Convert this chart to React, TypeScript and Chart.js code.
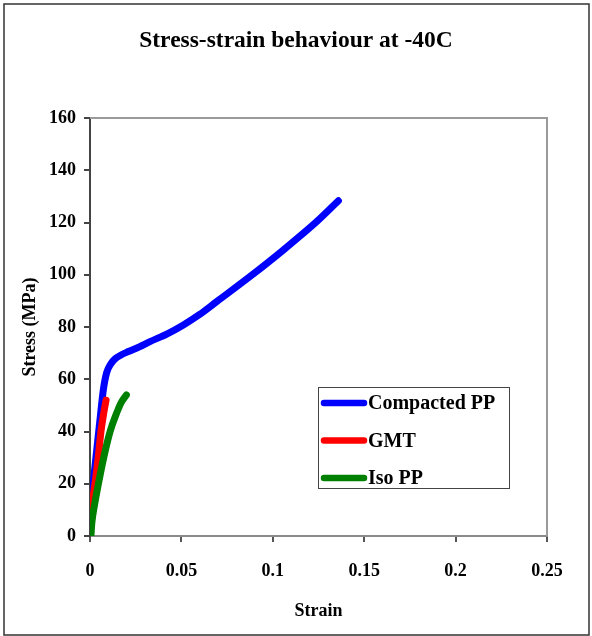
import React, { useEffect, useRef } from "react";
import { Chart, registerables } from "chart.js";

Chart.register(...registerables);

const titleText = "Stress-strain behaviour at -40C";
const xTitle = "Strain";
const yTitle = "Stress (MPa)";
const seriesNames = ["Compacted PP", "GMT", "Iso PP"];
const seriesColors = ["#0000ff", "#ff0000", "#008000"];

const compactedStrain = [0.0003, 0.002, 0.004, 0.006, 0.0073, 0.0091, 0.0115, 0.0137, 0.017, 0.021, 0.027, 0.0328, 0.042, 0.0511, 0.06, 0.0693, 0.0875, 0.1058, 0.124, 0.1359];
const compactedStress = [10, 22, 35, 48, 56, 62.5, 66, 67.8, 69.3, 70.6, 72.4, 74.4, 77.3, 80.8, 84.8, 89.7, 99.3, 109.5, 120.3, 128.3];

const gmtStrain = [0.0002, 0.0015, 0.0027, 0.0045, 0.006, 0.0075, 0.0088];
const gmtStress = [8, 14, 20, 30, 40, 47, 52];

const isoStrain = [0.0005, 0.001, 0.0025, 0.0046, 0.0075, 0.011, 0.014, 0.017, 0.0199];
const isoStress = [0, 5, 12, 20, 30, 40, 46, 51, 54];

const xTicks = [0, 0.05, 0.1, 0.15, 0.2, 0.25];
const yTicks = [0, 20, 40, 60, 80, 100, 120, 140, 160];

const FONT = "'Liberation Serif', 'Times New Roman', serif";

const toPoints = (xs: number[], ys: number[]) => xs.map((x, i) => ({ x, y: ys[i] }));

export default function App() {
  const ref = useRef<HTMLCanvasElement | null>(null);

  useEffect(() => {
    if (!ref.current) return;
    document.body.style.margin = "0";

    const decor = {
      id: "decor",
      beforeDraw(chart: any) {
        const ctx = chart.ctx;
        ctx.save();
        ctx.fillStyle = "#ffffff";
        ctx.fillRect(0, 0, chart.width, chart.height);
        ctx.restore();
      },
      afterDatasetsDraw(chart: any) {
        const ctx = chart.ctx;
        const a = chart.chartArea;
        ctx.save();
        ctx.strokeStyle = "#9a9a9a";
        ctx.lineWidth = 2;
        ctx.beginPath();
        ctx.moveTo(a.left, a.top);
        ctx.lineTo(a.right, a.top);
        ctx.lineTo(a.right, a.bottom);
        ctx.stroke();
        ctx.restore();
      },
      afterDraw(chart: any) {
        const ctx = chart.ctx;
        const a = chart.chartArea;
        ctx.save();
        ctx.strokeStyle = "#333333";
        ctx.lineWidth = 1.5;
        ctx.strokeRect(4, 4, 585, 631);
        ctx.fillStyle = "#000";
        ctx.font = `bold 23.5px ${FONT}`;
        ctx.textAlign = "center";
        ctx.textBaseline = "middle";
        ctx.fillText(titleText, 296, 41);
        const lx = a.left + 228;
        const ly = a.top + 269;
        ctx.strokeStyle = "#444";
        ctx.lineWidth = 1;
        ctx.strokeRect(lx + 0.5, ly + 0.5, 191, 101);
        ctx.font = `bold 20px ${FONT}`;
        ctx.textAlign = "left";
        seriesNames.forEach((name, i) => {
          const yy = ly + 16 + i * 37.5;
          ctx.strokeStyle = seriesColors[i];
          ctx.lineWidth = 6.5;
          ctx.lineCap = "round";
          ctx.beginPath();
          ctx.moveTo(lx + 6, yy);
          ctx.lineTo(lx + 46, yy);
          ctx.stroke();
          ctx.fillStyle = "#000";
          ctx.fillText(name, lx + 50, yy + 1);
        });
        ctx.restore();
      },
    };

    const mk = (i: number, xs: number[], ys: number[], order: number) => ({
      label: seriesNames[i],
      data: toPoints(xs, ys),
      borderColor: seriesColors[i],
      backgroundColor: seriesColors[i],
      borderWidth: 7,
      borderCapStyle: "round" as const,
      borderJoinStyle: "round" as const,
      pointRadius: 0,
      showLine: true,
      cubicInterpolationMode: "monotone" as const,
      order,
    });

    const chart = new Chart(ref.current, {
      type: "scatter",
      data: {
        datasets: [
          mk(0, compactedStrain, compactedStress, 3),
          mk(1, gmtStrain, gmtStress, 2),
          mk(2, isoStrain, isoStress, 1),
        ],
      },
      options: {
        animation: false,
        responsive: false,
        devicePixelRatio: 1,
        layout: { padding: { top: 118, right: 45, left: 0, bottom: 0 } },
        plugins: {
          legend: { display: false },
          title: { display: false },
          tooltip: { enabled: false },
        },
        scales: {
          x: {
            type: "linear",
            min: 0,
            max: 0.25,
            afterBuildTicks: (s: any) => {
              s.ticks = xTicks.map((v) => ({ value: v }));
            },
            afterFit: (s: any) => {
              s.height = 100;
            },
            ticks: {
              color: "#000",
              font: { family: FONT, size: 18, weight: "bold" },
              padding: 19,
              maxRotation: 0,
              callback: (v: any) => String(v),
            },
            grid: {
              drawOnChartArea: false,
              drawTicks: true,
              tickLength: 6,
              color: "#555",
              lineWidth: 2,
            },
            border: { display: true, color: "#8a8a8a", width: 2 },
            title: {
              display: true,
              text: xTitle,
              color: "#000",
              font: { family: FONT, size: 18, weight: "bold" },
              padding: { top: 0, bottom: 14 },
            },
          },
          y: {
            type: "linear",
            min: 0,
            max: 160,
            afterBuildTicks: (s: any) => {
              s.ticks = yTicks.map((v) => ({ value: v }));
            },
            afterFit: (s: any) => {
              s.width = 90;
            },
            ticks: {
              color: "#000",
              font: { family: FONT, size: 18, weight: "bold" },
              padding: 8,
            },
            grid: {
              drawOnChartArea: false,
              drawTicks: true,
              tickLength: 6,
              color: "#444",
              lineWidth: 2,
            },
            border: { display: true, color: "#444", width: 2 },
            title: {
              display: true,
              text: yTitle,
              color: "#000",
              font: { family: FONT, size: 18, weight: "bold" },
              padding: { top: 20, bottom: 0 },
            },
          },
        },
      },
      plugins: [decor],
    } as any);

    return () => chart.destroy();
  }, []);

  return (
    <div style={{ position: "absolute", left: 0, top: 0, width: 592, height: 636 }}>
      <canvas ref={ref} width={592} height={636} style={{ width: 592, height: 636, display: "block" }} />
    </div>
  );
}
